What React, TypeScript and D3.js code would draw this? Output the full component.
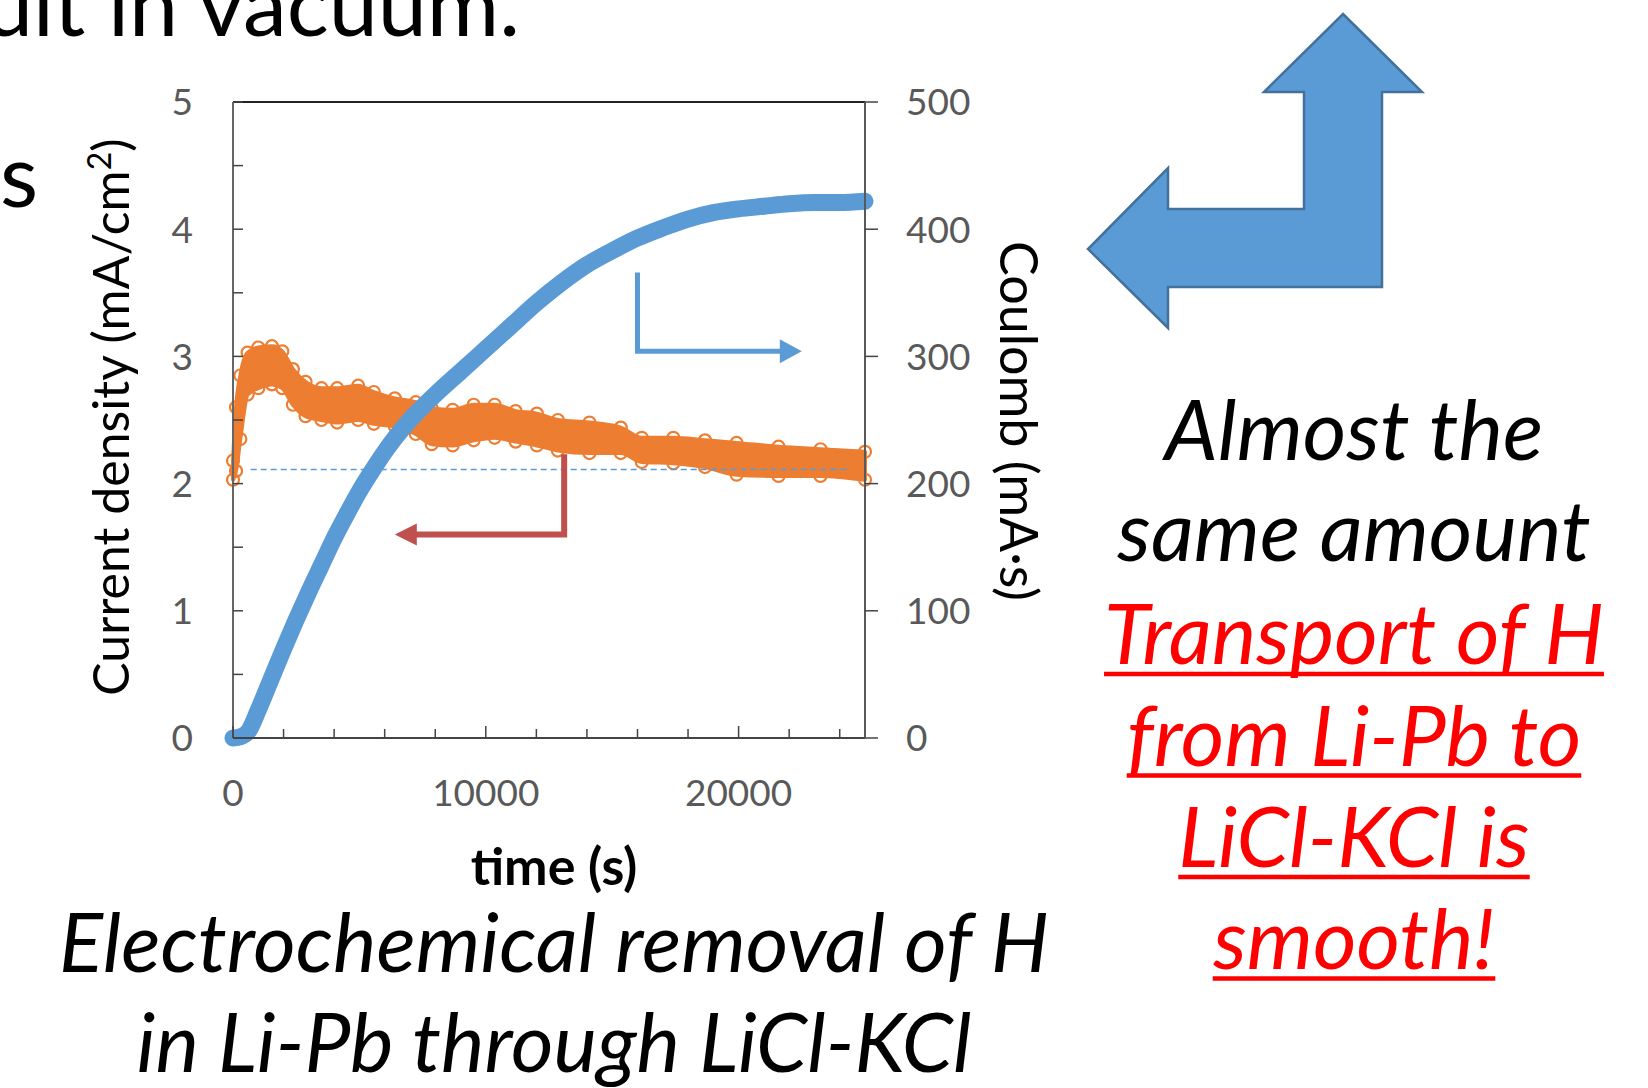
import React, { useLayoutEffect, useRef, useState } from "react";
import * as d3 from "d3";

// ---- data ----
// current density (mA/cm2): upper and lower edge of the cloud of orange markers
const bandTime = [0, 120, 290, 580, 1000, 1540, 1950, 2370, 2870, 3500, 4120, 4950, 5570, 6400, 7230, 7860, 8690, 9520, 10350, 11180, 12020, 12850, 14100, 15340, 16170, 17420, 18670, 19920, 21580, 23240, 25000];
const bandUpper = [2.18, 2.6, 2.85, 3.03, 3.07, 3.08, 3.04, 2.9, 2.8, 2.75, 2.75, 2.77, 2.72, 2.67, 2.64, 2.59, 2.58, 2.62, 2.62, 2.57, 2.55, 2.5, 2.48, 2.44, 2.36, 2.36, 2.34, 2.32, 2.29, 2.27, 2.25];
const bandLower = [2.03, 2.1, 2.35, 2.7, 2.75, 2.78, 2.75, 2.62, 2.53, 2.5, 2.48, 2.5, 2.47, 2.45, 2.39, 2.31, 2.3, 2.34, 2.36, 2.33, 2.3, 2.26, 2.24, 2.24, 2.17, 2.16, 2.13, 2.07, 2.06, 2.06, 2.03];

// integrated charge (mA*s)
const couTime = [0, 300, 600, 1000, 1500, 2000, 2500, 3000, 3500, 4000, 4500, 5000, 5500, 6000, 7000, 8000, 9000, 10000, 11000, 12000, 13000, 14000, 15000, 16000, 17000, 18000, 19000, 20000, 21000, 22000, 23000, 24000, 25000];
const couValue = [0, 1, 5, 22, 46, 70, 93, 115, 136, 157, 176, 194, 210, 225, 250, 270, 288, 306, 324, 342, 358, 372, 383, 393, 401, 408, 413, 416, 418, 420, 421, 421, 422];

const baselineLevel = 2.11; // dashed reference level (mA/cm2)

const currentTicks = [0, 1, 2, 3, 4, 5];
const coulombTicks = [0, 100, 200, 300, 400, 500];
const timeTicks = [0, 10000, 20000];

const noteBlack = ["Almost the", "same amount"];
const noteRed = ["Transport of H", "from Li-Pb to", "LiCl-KCl is", "smooth!"];
const caption = ["Electrochemical removal of H", "in Li-Pb through LiCl-KCl"];

// ---- layout ----
const W = 1648;
const H = 1088;
const M = { left: 233, right: 865, top: 102, bottom: 738 };
const FONT = "Lato, Carlito, 'Open Sans', sans-serif";
const BLUE = "#5B9BD5";
const ORANGE = "#ED7D31";
const RED_ARROW = "#C0504D";
const NOTE_X = 1354;

const x = d3.scaleLinear().domain([0, 25000]).range([M.left, M.right]);
const yCur = d3.scaleLinear().domain([0, 5]).range([M.bottom, M.top]);
const yCou = d3.scaleLinear().domain([0, 500]).range([M.bottom, M.top]);

const App = () => {
  const redRefs = useRef<(SVGTextElement | null)[]>([]);
  const [redWidths, setRedWidths] = useState<number[]>([]);

  useLayoutEffect(() => {
    setRedWidths(redRefs.current.map((el) => (el ? el.getBBox().width : 0)));
  }, []);

  const bandIdx = bandTime.map((_, i) => i);
  const band = d3
    .area<number>()
    .x((i) => x(bandTime[i]))
    .y0((i) => yCur(bandLower[i]))
    .y1((i) => yCur(bandUpper[i]))
    .curve(d3.curveMonotoneX);

  const couLine = d3
    .line<number>()
    .x((i) => x(couTime[i]))
    .y((i) => yCou(couValue[i]))
    .curve(d3.curveMonotoneX);

  const minorX = d3.range(0, 25001, 2000);
  const minorY = yCur.ticks(10);

  // annotation arrows in data coordinates
  const bx = x(16000), by0 = yCou(366), by1 = yCou(304), bx1 = x(22500);
  const rx = x(13100), ry0 = yCur(2.23), ry1 = yCur(1.6), rx1 = x(6400);

  return (
    <svg width={W} height={H} style={{ position: "absolute", left: 0, top: 0, background: "#fff" }} fontFamily={FONT}>
      {/* slide text above */}
      <text x={520} y={36} fontSize={88} textAnchor="end" fill="#000">ult in vacuum.</text>
      <text x={0} y={207} fontSize={88} fill="#000">s</text>

      {/* orange cloud */}
      <path d={band(bandIdx) || ""} fill={ORANGE} stroke={ORANGE} strokeWidth={4} strokeLinejoin="round" />
      {bandIdx.map((i) => (
        <g key={"o" + i}>
          <circle cx={x(bandTime[i])} cy={yCur(bandUpper[i])} r={6} fill="none" stroke={ORANGE} strokeWidth={2.2} />
          <circle cx={x(bandTime[i])} cy={yCur(bandLower[i])} r={6} fill="none" stroke={ORANGE} strokeWidth={2.2} />
        </g>
      ))}

      {/* dashed level */}
      <line x1={x(700)} x2={x(24400)} y1={yCur(baselineLevel)} y2={yCur(baselineLevel)} stroke={BLUE} strokeWidth={1.5} strokeDasharray="6 4" />

      {/* coulomb curve */}
      <path d={couLine(couTime.map((_, i) => i)) || ""} fill="none" stroke={BLUE} strokeWidth={17} strokeLinecap="round" strokeLinejoin="round" />

      {/* frame and axes */}
      <line x1={M.left} x2={M.right} y1={M.top} y2={M.top} stroke="#222" strokeWidth={2} />
      <line x1={M.left} x2={M.left} y1={M.top} y2={M.bottom} stroke="#666" strokeWidth={2} />
      <line x1={M.left} x2={M.right} y1={M.bottom} y2={M.bottom} stroke="#444" strokeWidth={2} />
      <line x1={M.right} x2={M.right} y1={M.top} y2={M.bottom} stroke="#595959" strokeWidth={2} />

      {minorY.map((v) => (
        <line key={"ly" + v} x1={M.left} x2={M.left + 10} y1={yCur(v)} y2={yCur(v)} stroke="#444" strokeWidth={1.5} />
      ))}
      {coulombTicks.map((v) => (
        <line key={"ry" + v} x1={M.right} x2={M.right + 13} y1={yCou(v)} y2={yCou(v)} stroke="#444" strokeWidth={1.5} />
      ))}
      {minorX.map((v) => (
        <line key={"tx" + v} x1={x(v)} x2={x(v)} y1={M.bottom} y2={M.bottom - (v % 10000 === 0 ? 12 : 9)} stroke="#444" strokeWidth={1.5} />
      ))}

      {currentTicks.map((v) => (
        <text key={"lt" + v} x={193} y={yCur(v)} dy="0.36em" fontSize={37} fill="#595959" textAnchor="end">{v}</text>
      ))}
      {coulombTicks.map((v) => (
        <text key={"rt" + v} x={906} y={yCou(v)} dy="0.36em" fontSize={37} fill="#595959">{v}</text>
      ))}
      {timeTicks.map((v) => (
        <text key={"xt" + v} x={x(v)} y={806} fontSize={37} fill="#595959" textAnchor="middle">{v}</text>
      ))}

      <text x={554} y={885} fontSize={52} fontWeight="bold" textAnchor="middle" fill="#000">time (s)</text>
      <text transform="translate(129,417) rotate(-90)" fontSize={50} textAnchor="middle" fill="#000">
        Current density (mA/cm<tspan dy={-18} fontSize={32}>2</tspan><tspan dy={18}>)</tspan>
      </text>
      <text transform="translate(1000,421) rotate(90)" fontSize={52} textAnchor="middle" fill="#000">Coulomb (mA·s)</text>

      {/* annotation arrows */}
      <polyline points={`${bx},${by0} ${bx},${by1} ${bx1 - 20},${by1}`} fill="none" stroke={BLUE} strokeWidth={5} />
      <polygon points={`${bx1 - 22},${by1 - 12} ${bx1},${by1} ${bx1 - 22},${by1 + 12}`} fill={BLUE} />
      <polyline points={`${rx},${ry0} ${rx},${ry1} ${rx1 + 20},${ry1}`} fill="none" stroke={RED_ARROW} strokeWidth={6} />
      <polygon points={`${rx1 + 22},${ry1 - 11} ${rx1},${ry1} ${rx1 + 22},${ry1 + 11}`} fill={RED_ARROW} />

      {/* big bent arrow */}
      <polygon
        points="1343,14 1422,92 1382,92 1382,287 1168,287 1168,328 1088,249 1168,168 1168,209 1304,209 1304,92 1264,92"
        fill={BLUE}
        stroke="#41719C"
        strokeWidth={2.5}
      />

      {/* right note */}
      {noteBlack.map((s, i) => (
        <text key={"nb" + i} x={NOTE_X} y={460 + i * 101} fontSize={84} fontStyle="italic" textAnchor="middle" fill="#000">{s}</text>
      ))}
      {noteRed.map((s, i) => (
        <g key={"nr" + i}>
          <text
            ref={(el) => { redRefs.current[i] = el; }}
            x={NOTE_X}
            y={664 + i * 101.5}
            fontSize={84}
            fontStyle="italic"
            textAnchor="middle"
            fill="#FF0000"
          >
            {s}
          </text>
          {redWidths[i] ? (
            <line x1={NOTE_X - redWidths[i] / 2} x2={NOTE_X + redWidths[i] / 2} y1={664 + i * 101.5 + 10} y2={664 + i * 101.5 + 10} stroke="#FF0000" strokeWidth={4.5} />
          ) : null}
        </g>
      ))}

      {/* caption */}
      {caption.map((s, i) => (
        <text key={"c" + i} x={554} y={972 + i * 100} fontSize={82} fontStyle="italic" textAnchor="middle" fill="#000">{s}</text>
      ))}
    </svg>
  );
};

export default App;
